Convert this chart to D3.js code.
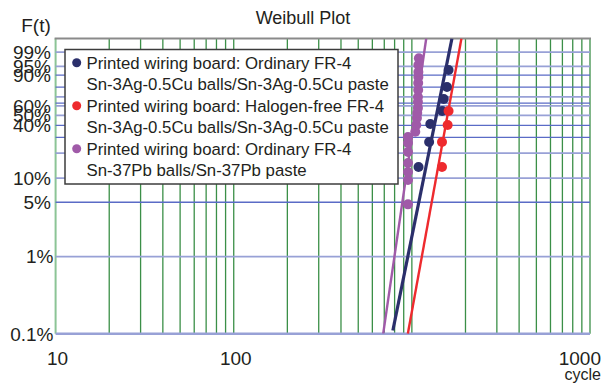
<!DOCTYPE html>
<html>
<head>
<meta charset="utf-8">
<title>Weibull Plot</title>
<script src="https://cdn.jsdelivr.net/npm/d3@7"></script>
<style>
  body { margin: 0; background: #fff; }
  svg { display: block; font-family: "Liberation Sans", Arial, sans-serif; }
</style>
</head>
<body>
<div id="chart"></div>
<script>
// --- data ---
// probability grid (%), labelled ticks (%)
var yGrid = [0.1, 1, 5, 10, 20, 30, 40, 50, 60, 63.2, 70, 80, 90, 95, 99];
var yTicks = [0.1, 1, 5, 10, 40, 50, 60, 90, 95, 99];
// x tick labels as printed on the original (the last one sits at the right edge)
var xTickValues = [10, 100, 10000];
var xTickLabels = ["10", "100", "1000"];

var seriesNames = [
  ["Printed wiring board: Ordinary FR-4", "Sn-3Ag-0.5Cu balls/Sn-3Ag-0.5Cu paste"],
  ["Printed wiring board: Halogen-free FR-4", "Sn-3Ag-0.5Cu balls/Sn-3Ag-0.5Cu paste"],
  ["Printed wiring board: Ordinary FR-4", "Sn-37Pb balls/Sn-37Pb paste"]
];
var seriesColors = ["#2b2f6b", "#ee2a2e", "#a05aa8"];

// failure cycles and cumulative failure (%)
var ordinaryCycles = [1090, 1250, 1269, 1480, 1510, 1574, 1607];
var ordinaryF      = [13.7, 26.7, 41.3, 54.5, 67.6, 80.1, 93.2];
var halogenCycles  = [1476, 1476, 1588, 1607];
var halogenF       = [13.7, 26.7, 40.4, 54.5];
var snpbCycles = [951, 951, 951, 951, 951, 951, 951, 1045, 1059, 1068, 1072, 1082, 1082, 1082, 1085, 1085, 1088, 1088, 1088, 1095];
var snpbF      = [4.7, 9.5, 11.9, 15.3, 20.6, 26.1, 30.3, 34.5, 40.4, 47.2, 52.4, 57.7, 64.3, 69.8, 77.1, 83.8, 88.7, 92.0, 95.6, 97.8];

// fitted Weibull lines: shape, scale (cycles), lowest F drawn (%)
var fitBeta  = [11.45, 12.76, 15.9];
var fitEta   = [1418, 1631, 1066];
var fitStart = [0.11, 0.1, 0.1];

// --- drawing ---
var W = 601, H = 385;
var pL = 55.6, pR = 590, pT = 38.5, pB = 333.7;

function wb(p) { return Math.log(-Math.log(1 - p / 100)); }

var x = d3.scaleLog().domain([10, 10000]).range([pL, pR]);
var y = d3.scaleLinear().domain([wb(0.1), wb(99.9)]).range([pB, pT]);

var svg = d3.select("#chart").append("svg").attr("width", W).attr("height", H);

svg.append("defs").append("clipPath").attr("id", "plot")
  .append("rect").attr("x", pL).attr("y", pT)
  .attr("width", pR - pL).attr("height", pB - pT);

// vertical grid
var xGrid = [];
[10, 100, 1000].forEach(function (d) {
  for (var k = 1; k <= 9; k++) xGrid.push(d * k);
});
xGrid.push(10000);

svg.append("g").selectAll("line").data(xGrid).enter().append("line")
  .attr("x1", function (d) { return x(d); })
  .attr("x2", function (d) { return x(d); })
  .attr("y1", pT).attr("y2", pB)
  .attr("stroke", function (d, i) { return i === 0 ? "#8cc496" : "#3b8f47"; })
  .attr("stroke-width", function (d, i) { return i === 0 ? 2 : 1.3; });

// horizontal grid
var darkRows = [90, 80, 63.2, 40, 30, 5];
svg.append("g").selectAll("line").data(yGrid).enter().append("line")
  .attr("x1", pL).attr("x2", pR)
  .attr("y1", function (d) { return y(wb(d)); })
  .attr("y2", function (d) { return y(wb(d)); })
  .attr("stroke", function (d) { return darkRows.indexOf(d) >= 0 ? "#5a6bc6" : "#98a1d6"; })
  .attr("stroke-width", function (d) { return d === 0.1 ? 2.5 : (darkRows.indexOf(d) >= 0 ? 1.3 : 1.8); });

// top border
svg.append("line").attr("x1", pL - 1).attr("x2", pR + 1)
  .attr("y1", pT).attr("y2", pT)
  .attr("stroke", "#8a8a8a").attr("stroke-width", 2);

// fitted lines
var fits = svg.append("g").attr("clip-path", "url(#plot)");
fitBeta.forEach(function (b, i) {
  var lo = wb(fitStart[i]), hi = wb(99.9);
  var pts = [lo, hi].map(function (w) {
    return [x(fitEta[i] * Math.exp(w / b)), y(w)];
  });
  fits.append("path").attr("d", d3.line()(pts))
    .attr("fill", "none").attr("stroke", seriesColors[i])
    .attr("stroke-width", i === 0 ? 3.2 : 2.4);
});

// points
var series = [
  { c: ordinaryCycles, f: ordinaryF },
  { c: halogenCycles, f: halogenF },
  { c: snpbCycles, f: snpbF }
];
[2, 0, 1].forEach(function (i) {
  var s = series[i];
  svg.append("g").selectAll("circle").data(s.c).enter().append("circle")
    .attr("cx", function (d) { return x(d); })
    .attr("cy", function (d, j) { return y(wb(s.f[j])); })
    .attr("r", 5)
    .attr("fill", seriesColors[i]);
});

// legend
var lg = svg.append("g");
lg.append("rect").attr("x", 65).attr("y", 49.5).attr("width", 333).attr("height", 134.5)
  .attr("fill", "#fff").attr("stroke", "#3c3c3c").attr("stroke-width", 1.5);
seriesNames.forEach(function (names, i) {
  var y0 = 62.7 + i * 43;
  lg.append("circle").attr("cx", 76.7).attr("cy", y0).attr("r", 4.5).attr("fill", seriesColors[i]);
  names.forEach(function (t, k) {
    lg.append("text").attr("x", 86.5).attr("y", y0 + 6 + k * 21.5)
      .attr("font-size", 16.8).attr("fill", "#231f20").text(t);
  });
});

// y labels
svg.append("g").selectAll("text").data(yTicks).enter().append("text")
  .attr("x", function (d) { return d <= 1 ? 53.5 : 51; })
  .attr("y", function (d) { return y(wb(d)) + 6.8; })
  .attr("text-anchor", "end").attr("font-size", 19).attr("fill", "#231f20")
  .text(function (d) { return d + "%"; });

// x labels
svg.append("g").selectAll("text").data(xTickValues).enter().append("text")
  .attr("x", function (d, i) { return i === xTickValues.length - 1 ? 601 : x(d) + 2; })
  .attr("y", 365)
  .attr("text-anchor", function (d, i) { return i === xTickValues.length - 1 ? "end" : "middle"; })
  .attr("font-size", 19).attr("fill", "#231f20")
  .text(function (d, i) { return xTickLabels[i]; });

svg.append("text").attr("x", 601).attr("y", 380).attr("text-anchor", "end")
  .attr("font-size", 16).attr("fill", "#231f20").text("cycle");

svg.append("text").attr("x", 36).attr("y", 32).attr("text-anchor", "middle")
  .attr("font-size", 19).attr("fill", "#231f20").text("F(t)");

svg.append("text").attr("x", 303).attr("y", 24).attr("text-anchor", "middle")
  .attr("font-size", 18).attr("fill", "#231f20").text("Weibull Plot");
</script>
</body>
</html>
